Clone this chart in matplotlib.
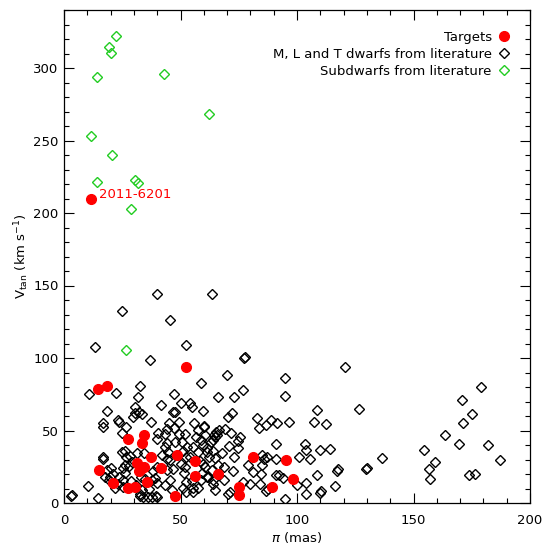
import matplotlib
matplotlib.use("Agg")
from matplotlib import pyplot as plt
from matplotlib.ticker import MultipleLocator

# Targets (red filled circles)
target_plx = [11.5, 52.4, 14.7, 18.6, 27.6, 34.5, 33.5, 14.9, 21.2, 27.6, 30.5,
              31.5, 33.0, 32.3, 34.5, 37.5, 35.5, 41.5, 48.4, 47.5, 56.4, 56.4,
              66.2, 81.2, 95.1, 75.2, 75.2, 89.1, 98.3]
target_vtan = [210, 94.0, 78.6, 80.5, 44.3, 46.9, 41.6, 22.8, 14.0, 10.6, 10.8,
               27.8, 23.2, 22.3, 25.0, 31.7, 14.5, 23.9, 32.9, 4.8, 29.0, 18.6,
               20.0, 31.7, 29.4, 11.0, 5.3, 11.0, 16.8]

# Subdwarfs from literature (green open diamonds)
sd_plx = [22.2, 19.3, 20.3, 14.0, 42.8, 62.2, 11.6, 20.7, 14.0, 30.5, 31.6, 28.8, 26.6]
sd_vtan = [322, 314.7, 310.6, 294, 295.6, 268, 252.9, 240, 221.6, 222.8, 220.9, 202.8, 105.5]

# M, L and T dwarfs from literature (black open diamonds)
mlt = [
    (24.9, 132.4), (13.3, 107.6), (36.9, 98.6), (39.9, 144.1), (45.5, 126.2),
    (63.5, 144.1), (52.4, 109.0), (77.1, 100.2), (77.6, 100.6), (120.6, 94.0),
    (126.6, 65.0), (136.6, 31.3), (129.4, 23.7), (129.9, 23.9), (154.5, 36.3),
    (156.8, 23.2), (159.2, 28.3), (157.2, 16.8), (163.5, 46.7), (169.7, 40.9),
    (170.9, 70.8), (171.2, 55.0), (175.2, 61.4), (179.1, 80.2), (181.8, 40.0),
    (187.3, 29.7), (173.8, 19.5), (176.5, 19.8),
    (69.8, 88.0), (58.8, 82.5), (95.0, 86.0), (76.7, 77.9), (66.1, 72.9),
    (73.0, 72.9), (95.0, 74.0), (59.8, 63.7), (72.0, 61.9), (70.5, 59.1),
    (108.4, 63.9), (60.1, 52.6), (82.8, 58.9), (89.0, 57.2), (86.7, 54.0),
    (91.3, 55.0), (83.8, 51.7), (96.4, 55.9), (107.2, 56.1), (112.6, 54.3),
    (69.1, 50.8), (66.4, 50.3), (64.4, 46.9), (64.7, 45.5), (71.5, 48.5),
    (75.5, 45.7), (74.5, 42.8), (58.8, 43.4), (70.9, 39.3), (74.8, 37.7),
    (91.1, 40.5), (103.4, 40.5), (104.0, 36.3), (105.6, 30.3), (109.9, 36.6),
    (114.3, 37.4), (61.5, 37.7), (64.1, 36.1), (67.7, 34.2), (62.4, 31.5),
    (64.8, 30.8), (73.0, 31.5), (84.8, 33.1), (86.0, 30.3), (87.0, 31.5),
    (91.0, 30.6), (101.0, 31.5), (59.8, 26.9), (66.2, 26.2), (68.7, 25.1),
    (72.7, 22.3), (78.8, 26.4), (84.8, 26.2), (81.2, 21.6), (84.5, 19.8),
    (91.0, 19.3), (93.8, 17.4), (108.6, 19.1), (117.6, 23.7), (117.3, 22.3),
    (59.1, 20.5), (61.2, 18.1), (63.8, 13.1), (68.8, 15.9), (77.0, 14.7),
    (79.8, 13.1), (84.1, 13.1), (86.7, 8.5), (87.7, 9.7), (92.3, 19.5),
    (99.9, 12.4), (103.9, 13.6), (104.0, 6.2), (109.9, 6.9), (110.4, 8.3),
    (116.3, 11.7), (94.8, 2.8), (70.5, 6.2), (71.2, 7.8), (58.7, 15.9),
    (10.9, 75.2), (32.8, 80.5), (22.3, 75.6), (31.8, 73.3), (47.3, 75.2),
    (18.3, 63.4), (30.3, 66.4), (41.6, 67.6), (50.3, 68.8), (54.9, 66.4),
    (47.6, 62.8), (30.6, 61.9), (32.3, 62.6), (33.5, 61.2), (29.5, 59.1),
    (23.2, 57.2), (23.7, 56.1), (37.2, 56.1), (16.6, 55.4), (16.7, 52.2),
    (49.4, 56.1), (45.2, 55.0), (44.3, 51.0), (47.2, 51.5), (40.3, 48.5),
    (43.5, 47.6), (49.4, 47.4), (51.8, 47.6), (55.9, 55.0), (57.5, 50.3),
    (56.5, 45.7), (65.4, 49.2), (60.6, 46.7), (47.8, 42.3), (50.6, 42.3),
    (44.1, 41.1), (39.8, 43.9), (43.5, 38.8), (44.5, 35.0), (50.9, 35.9),
    (52.7, 38.8), (55.2, 38.8), (57.6, 35.2), (61.4, 35.2), (42.2, 33.1),
    (44.2, 30.1), (45.5, 29.7), (52.4, 31.5), (54.2, 31.5), (58.5, 29.0),
    (63.4, 22.8), (60.5, 24.6), (44.1, 22.8), (46.9, 23.2), (50.2, 26.9),
    (52.1, 24.6), (51.6, 20.5), (39.8, 24.6), (38.3, 22.3), (45.5, 15.9),
    (43.3, 12.4), (52.4, 14.5), (54.8, 15.4), (46.2, 9.0), (51.2, 10.1),
    (55.5, 10.1), (37.6, 4.3), (40.1, 4.3), (36.5, 9.9), (33.8, 4.3),
    (32.6, 6.0), (33.3, 9.0), (30.9, 12.4), (28.8, 15.4), (25.5, 15.9),
    (25.2, 23.9), (26.2, 26.2), (26.2, 20.5), (23.7, 18.1), (20.2, 23.9),
    (21.2, 19.8), (23.3, 12.9), (17.6, 18.1), (19.4, 15.9), (10.4, 11.7),
    (14.7, 3.2), (16.9, 31.5), (16.6, 30.1), (24.8, 35.4), (26.2, 36.1),
    (26.5, 31.9), (28.3, 32.4), (29.0, 28.5), (28.0, 25.5), (32.9, 18.1),
    (34.9, 16.8), (37.6, 15.9), (40.1, 13.6), (39.1, 17.0), (24.8, 48.0),
    (31.5, 34.7), (34.5, 34.7), (59.8, 40.0), (63.0, 41.8), (57.6, 10.1),
    (61.9, 18.1), (64.1, 15.9), (64.8, 9.0),
    (3.6, 5.5), (3.2, 5.0), (46.9, 63.0), (54.1, 68.8), (26.5, 52.6),
    (18.3, 22.8), (19.7, 18.1), (25.2, 11.2), (21.9, 10.1), (32.6, 4.8),
    (36.2, 4.3), (39.3, 4.8), (52.4, 7.8), (55.5, 7.8), (65.5, 46.9),
    (60.1, 53.3), (64.1, 43.4),
]
mlt_plx = [p[0] for p in mlt]
mlt_vtan = [p[1] for p in mlt]

label_name = "2011-6201"
green = "#22cc22"

fig = plt.figure(figsize=(5.42, 5.44), dpi=100)
ax = fig.add_axes([64 / 542, 41 / 544, 466 / 542, 493 / 544])

ax.plot(mlt_plx, mlt_vtan, linestyle="none", marker="D", ms=5.5, mfc="none",
        mec="black", mew=1.0, label="M, L and T dwarfs from literature")
ax.plot(sd_plx, sd_vtan, linestyle="none", marker="D", ms=5.5, mfc="none",
        mec=green, mew=1.0, label="Subdwarfs from literature")
ax.plot(target_plx, target_vtan, linestyle="none", marker="o", ms=7,
        color="red", mec="red", label="Targets", zorder=3)

ax.annotate(label_name, (target_plx[0], target_vtan[0]), xytext=(6, 3),
            textcoords="offset points", color="red", fontsize=9.5, va="center")

ax.set_xlim(0, 200)
ax.set_ylim(0, 340)
ax.xaxis.set_major_locator(MultipleLocator(50))
ax.xaxis.set_minor_locator(MultipleLocator(10))
ax.yaxis.set_major_locator(MultipleLocator(50))
ax.yaxis.set_minor_locator(MultipleLocator(10))
ax.tick_params(which="both", direction="in", top=True, right=True,
               width=0.8, labelsize=9.5)
ax.tick_params(which="major", length=7)
ax.tick_params(which="minor", length=3.6)
ax.tick_params(axis="x", pad=8)
ax.tick_params(axis="y", pad=4)
for s in ax.spines.values():
    s.set_linewidth(0.9)

ax.set_xlabel(r"$\pi$ (mas)", fontsize=9.5, va="center")
ax.set_ylabel(r"V$_{\mathregular{tan}}$ (km s$^{\mathregular{-1}}$)",
              fontsize=9.5, va="center")
ax.xaxis.set_label_coords(0.5, -0.069)
ax.yaxis.set_label_coords(-0.09, 0.5)

handles, labels = ax.get_legend_handles_labels()
order = [2, 0, 1]
ax.legend([handles[i] for i in order], [labels[i] for i in order],
          loc="upper right", frameon=False, markerfirst=False, numpoints=1,
          handlelength=0.8, handletextpad=0.5, labelspacing=0.3,
          fontsize=9.5, borderaxespad=1.2)

fig.savefig("out.png", dpi=100)
plt.close()
